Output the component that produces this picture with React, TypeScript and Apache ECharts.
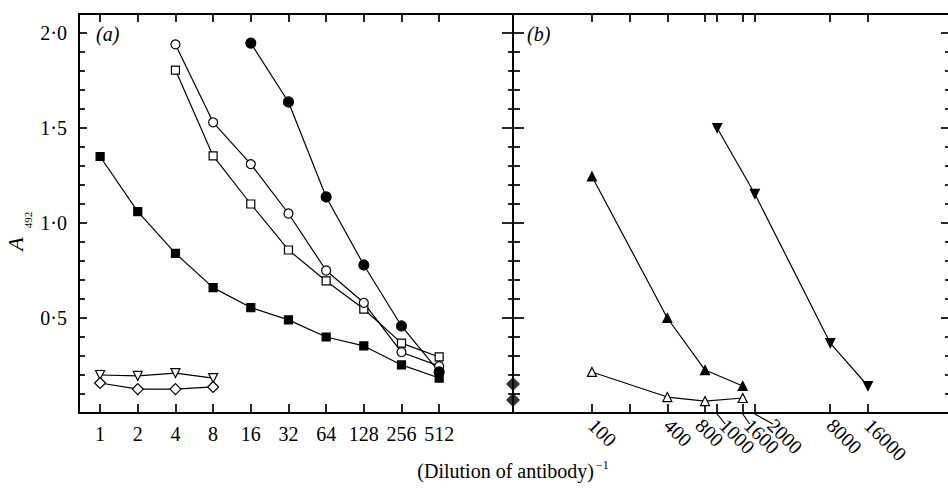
import React, { useEffect, useRef } from 'react';
import * as echarts from 'echarts';

// ---------- data ----------
const panelADilutions = [1, 2, 4, 8, 16, 32, 64, 128, 256, 512];
const filledSquareA = [1.35, 1.06, 0.84, 0.66, 0.555, 0.49, 0.4, 0.353, 0.253, 0.184];
const openCircleDil = [4, 8, 16, 32, 64, 128, 256, 512];
const openCircleA = [1.94, 1.53, 1.31, 1.05, 0.75, 0.58, 0.32, 0.247];
const openSquareDil = [4, 8, 16, 32, 64, 128, 256, 512];
const openSquareA = [1.805, 1.353, 1.1, 0.858, 0.695, 0.547, 0.368, 0.295];
const filledCircleDil = [16, 32, 64, 128, 256, 512];
const filledCircleA = [1.947, 1.637, 1.137, 0.779, 0.458, 0.216];
const controlDil = [1, 2, 4, 8];
const openDownTriA = [0.2, 0.195, 0.21, 0.184];
const openDiamondA = [0.158, 0.126, 0.126, 0.137];

const panelBTicks = [100, 200, 400, 800, 1000, 1600, 2000, 8000, 16000];
const panelBLabels = [100, 400, 800, 1000, 1600, 2000, 8000, 16000];
const filledTriDil = [100, 400, 800, 1600];
const filledTriA = [1.245, 0.5, 0.226, 0.142];
const openTriDil = [100, 400, 800, 1600];
const openTriA = [0.216, 0.084, 0.063, 0.079];
const filledDownTriDil = [1000, 2000, 8000, 16000];
const filledDownTriA = [1.5, 1.153, 0.368, 0.142];
const blankDiamondA = [0.153, 0.068];

const yMajorTicks = [0.5, 1.0, 1.5, 2.0];
const yMinorTicks = [0.1, 0.2, 0.3, 0.4, 0.6, 0.7, 0.8, 0.9, 1.1, 1.2, 1.3, 1.4, 1.6, 1.7, 1.8, 1.9];

// ---------- layout / style ----------
const FONT = '"Liberation Serif", "DejaVu Serif", serif';
const W = 948;
const H = 491;
const G_TOP = 14;
const G_H = 399;
const A_LEFT = 79;
const A_W = 434;
const B_LEFT = 513;
const B_W = 435;
const A_MIN = -0.56;
const A_MAX = 10.96;
const B_MIN = 4.549;
const B_MAX = 16.09;
const Y_MAX = 2.1;
// horizontal pixel shifts of crowded panel-(b) labels
const labelShift: Record<number, number> = { 800: -6, 1000: 6, 1600: 5, 2000: 16 };
const leaderLabels = [1000, 1600, 2000];

const log2 = (v: number) => Math.log2(v);
const pts = (xs: number[], ys: number[]) => xs.map((x, i) => [log2(x), ys[i]]);

export default function App() {
  const ref = useRef<HTMLDivElement>(null);

  useEffect(() => {
    if (!ref.current) return;
    const chart = echarts.init(ref.current, undefined, { renderer: 'svg' });

    const bPxPerUnit = B_W / (B_MAX - B_MIN);
    const bLabelPos = panelBLabels.map((v) => ({
      v,
      pos: log2(v) + (labelShift[v] || 0) / bPxPerUnit,
    }));
    const bLabelFormatter = (val: number) => {
      let best = bLabelPos[0];
      for (const l of bLabelPos) if (Math.abs(l.pos - val) < Math.abs(best.pos - val)) best = l;
      return String(best.v);
    };

    const axisLine = { show: true, onZero: false, lineStyle: { color: '#000', width: 2 } };
    const noLine = { show: false, onZero: false };
    const tickStyle = { color: '#000', width: 1.7 };
    const labelStyle = { color: '#000', fontFamily: FONT, fontSize: 20 };
    const yFmt = (v: number) => v.toFixed(1).replace('.', '·');

    const yAx = (grid: number, position: string, ticks: number[], len: number, opts: any = {}) => ({
      type: 'value',
      gridIndex: grid,
      position,
      min: 0,
      max: Y_MAX,
      axisLine: opts.line ? axisLine : noLine,
      axisTick: { show: true, inside: true, length: len, customValues: ticks, lineStyle: tickStyle },
      axisLabel: opts.labels
        ? { show: true, customValues: ticks, formatter: yFmt, margin: 12, ...labelStyle }
        : { show: false },
      splitLine: { show: false },
    });

    const lineSeries = (name: string, data: number[][], xi: number, yi: number, symbol: string, size: number, filled: boolean, rotate = 0) => ({
      name,
      type: 'line',
      xAxisIndex: xi,
      yAxisIndex: yi,
      data,
      symbol,
      symbolSize: size,
      symbolRotate: rotate,
      showAllSymbol: true,
      clip: false,
      lineStyle: { color: '#000', width: 1.2 },
      itemStyle: { color: filled ? '#000' : '#fff', borderColor: '#000', borderWidth: 1.2 },
      z: 3,
    });

    const option: any = {
      animation: false,
      backgroundColor: '#fff',
      grid: [
        { left: A_LEFT, top: G_TOP, width: A_W, height: G_H, outerBoundsMode: 'none' },
        { left: B_LEFT, top: G_TOP, width: B_W, height: G_H, outerBoundsMode: 'none' },
      ],
      xAxis: [
        {
          type: 'value', gridIndex: 0, position: 'bottom', min: A_MIN, max: A_MAX,
          axisLine,
          axisTick: { show: true, inside: true, length: 9, customValues: panelADilutions.map(log2), lineStyle: tickStyle },
          axisLabel: { show: true, customValues: panelADilutions.map(log2), formatter: (v: number) => String(Math.round(Math.pow(2, v))), margin: 11, ...labelStyle },
          splitLine: { show: false },
        },
        {
          type: 'value', gridIndex: 0, position: 'top', min: A_MIN, max: A_MAX,
          axisLine,
          axisTick: { show: true, inside: true, length: 8, customValues: panelADilutions.map(log2), lineStyle: tickStyle },
          axisLabel: { show: false },
          splitLine: { show: false },
        },
        {
          type: 'value', gridIndex: 1, position: 'bottom', min: B_MIN, max: B_MAX,
          axisLine,
          axisTick: { show: true, inside: true, length: 9, customValues: panelBTicks.map(log2), lineStyle: tickStyle },
          axisLabel: { show: true, customValues: bLabelPos.map((l) => l.pos), formatter: bLabelFormatter, rotate: -45, margin: 9, hideOverlap: false, ...labelStyle },
          splitLine: { show: false },
        },
        {
          type: 'value', gridIndex: 1, position: 'top', min: B_MIN, max: B_MAX,
          axisLine,
          axisTick: { show: true, inside: true, length: 8, customValues: panelBTicks.map(log2), lineStyle: tickStyle },
          axisLabel: { show: false },
          splitLine: { show: false },
        },
      ],
      yAxis: [
        yAx(0, 'left', yMajorTicks, 8, { line: true, labels: true }),
        yAx(0, 'left', yMinorTicks, 6),
        yAx(0, 'right', yMajorTicks, 11, { line: true }),
        yAx(0, 'right', yMinorTicks, 5),
        yAx(1, 'left', yMajorTicks, 11, { line: true }),
        yAx(1, 'left', yMinorTicks, 7),
        yAx(1, 'right', yMajorTicks, 7),
        yAx(1, 'right', yMinorTicks, 3),
      ],
      series: [
        lineSeries('filledSquare', pts(panelADilutions, filledSquareA), 0, 0, 'rect', 8, true),
        lineSeries('openSquare', pts(openSquareDil, openSquareA), 0, 0, 'rect', 8, false),
        lineSeries('openCircle', pts(openCircleDil, openCircleA), 0, 0, 'circle', 9, false),
        lineSeries('filledCircle', pts(filledCircleDil, filledCircleA), 0, 0, 'circle', 10, true),
        lineSeries('openDownTri', pts(controlDil, openDownTriA), 0, 0, 'triangle', 9, false, 180),
        lineSeries('openDiamond', pts(controlDil, openDiamondA), 0, 0, 'diamond', 11, false),
        lineSeries('filledTri', pts(filledTriDil, filledTriA), 2, 4, 'triangle', 9, true),
        lineSeries('openTri', pts(openTriDil, openTriA), 2, 4, 'triangle', 9, false),
        lineSeries('filledDownTri', pts(filledDownTriDil, filledDownTriA), 2, 4, 'triangle', 9, true, 180),
        {
          name: 'blankDiamond',
          type: 'scatter',
          xAxisIndex: 2,
          yAxisIndex: 4,
          data: blankDiamondA.map((y) => [B_MIN, y]),
          symbol: 'diamond',
          symbolSize: 14,
          clip: false,
          itemStyle: { color: '#000' },
          z: 4,
        },
      ],
      graphic: [
        { type: 'text', left: 96, top: 24, style: { text: '(a)', font: `italic 20px ${FONT}`, fill: '#000' } },
        { type: 'text', left: 527, top: 24, style: { text: '(b)', font: `italic 20px ${FONT}`, fill: '#000' } },
        {
          type: 'text', x: 15, y: 244, rotation: Math.PI / 2,
          style: { text: 'A', font: `italic 22px ${FONT}`, fill: '#000', align: 'center', verticalAlign: 'middle' },
        },
        {
          type: 'text', x: 28, y: 220, rotation: Math.PI / 2,
          style: { text: '492', font: `11px ${FONT}`, fill: '#000', align: 'center', verticalAlign: 'middle' },
        },
        {
          type: 'text', x: 513, y: 471,
          style: {
            text: '{t|(Dilution of antibody)}{s|−1}', align: 'center', verticalAlign: 'middle', fill: '#000',
            rich: {
              t: { font: `20px ${FONT}`, fill: '#000' },
              s: { font: `12px ${FONT}`, padding: [0, 0, 12, 2], fill: '#000' },
            },
          },
        },
      ],
    };

    chart.setOption(option);

    // leader lines for the shifted labels
    const yBottom = chart.convertToPixel({ yAxisIndex: 4 }, 0) as number;
    const leaders = leaderLabels.map((v, i) => {
      const x0 = chart.convertToPixel({ xAxisIndex: 2 }, log2(v)) as number;
      const x1 = x0 + (labelShift[v] || 0);
      return {
        type: 'line',
        id: 'leader' + i,
        shape: { x1: x0, y1: yBottom + 1, x2: x1 + 2, y2: yBottom + 11 },
        style: { stroke: '#000', lineWidth: 1.2 },
      };
    });
    chart.setOption({ graphic: [...option.graphic, ...leaders] });

    return () => chart.dispose();
  }, []);

  return <div ref={ref} style={{ position: 'fixed', left: 0, top: 0, width: W, height: H, background: '#fff' }} />;
}
